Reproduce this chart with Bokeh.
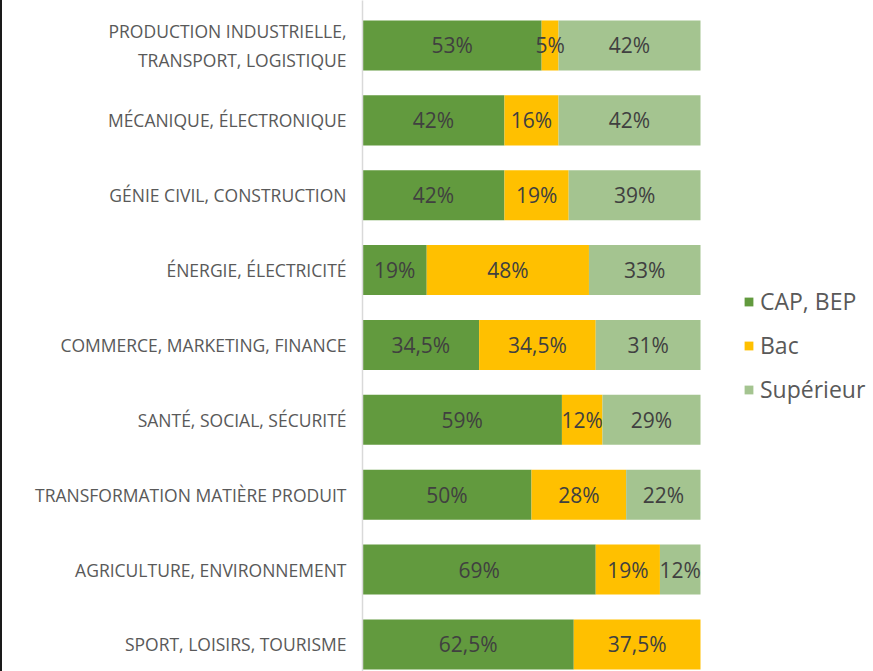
from bokeh.plotting import figure
from bokeh.models import ColumnDataSource, Range1d, FixedTicker, Legend, LegendItem
from bokeh.core.properties import value
from bokeh.embed import file_html
from bokeh.resources import INLINE

categories = [
    "PRODUCTION INDUSTRIELLE,\nTRANSPORT, LOGISTIQUE",
    "MÉCANIQUE, ÉLECTRONIQUE",
    "GÉNIE CIVIL, CONSTRUCTION",
    "ÉNERGIE, ÉLECTRICITÉ",
    "COMMERCE, MARKETING, FINANCE",
    "SANTÉ, SOCIAL, SÉCURITÉ",
    "TRANSFORMATION MATIÈRE PRODUIT",
    "AGRICULTURE, ENVIRONNEMENT",
    "SPORT, LOISIRS, TOURISME",
]
series_names = ["CAP, BEP", "Bac", "Supérieur"]
cap = [53, 42, 42, 19, 34.5, 59, 50, 69, 62.5]
bac = [5, 16, 19, 48, 34.5, 12, 28, 19, 37.5]
sup = [42, 42, 39, 33, 31, 29, 22, 12, 0]
colors = ["#629A3E", "#FFC000", "#A4C490"]

FONT = "Open Sans"

idx = list(range(len(categories)))
src = ColumnDataSource(dict(
    y=idx,
    cap=[v / 100 for v in cap],
    bac=[v / 100 for v in bac],
    sup=[v / 100 for v in sup],
))

p = figure(width=871, height=671, output_backend="svg", toolbar_location=None,
           x_range=Range1d(0, 511 / 338), y_range=Range1d(8.361, -0.601),
           min_border_left=360, min_border_right=0, min_border_top=0, min_border_bottom=0)
p.styles = {"border-left": "2px solid #1a1a1a"}
p.outline_line_color = None
p.grid.visible = False
p.xaxis.visible = False

renderers = p.hbar_stack(["cap", "bac", "sup"], y="y", height=0.668, color=colors,
                         line_color=None, source=src)

def fmt(v):
    return ("%g" % v).replace(".", ",") + "%"

lx, ly, lt = [], [], []
for i in idx:
    left = 0
    for vals in (cap, bac, sup):
        v = vals[i]
        if v > 0:
            lx.append((left + v / 2) / 100)
            ly.append(i)
            lt.append(fmt(v))
        left += v
p.text(x=lx, y=ly, text=lt, text_align="center", text_baseline="middle",
       text_font=value(FONT), text_font_size="21px", text_color="#404040")

yax = p.yaxis[0]
yax.ticker = FixedTicker(ticks=idx)
yax.major_label_overrides = {i: c for i, c in zip(idx, categories)}
yax.major_tick_line_color = None
yax.minor_tick_line_color = None
yax.major_tick_out = 0
yax.major_tick_in = 0
yax.axis_line_color = "#D9D9D9"
yax.axis_line_width = 1.5
yax.major_label_standoff = 16
yax.major_label_text_font = FONT
yax.major_label_text_font_size = "17.5px"
yax.major_label_text_color = "#595959"

legend = Legend(items=[LegendItem(label=n, renderers=[r]) for n, r in zip(series_names, renderers)],
                location=(381, 266))
legend.border_line_color = None
legend.background_fill_alpha = 0
legend.padding = 0
legend.margin = 0
legend.glyph_width = 11
legend.glyph_height = 11
legend.label_standoff = 6
legend.spacing = 12
legend.label_text_font = FONT
legend.label_text_font_size = "23px"
legend.label_text_color = "#595959"
p.add_layout(legend)

open("out.html", "w").write(file_html(p, INLINE))
